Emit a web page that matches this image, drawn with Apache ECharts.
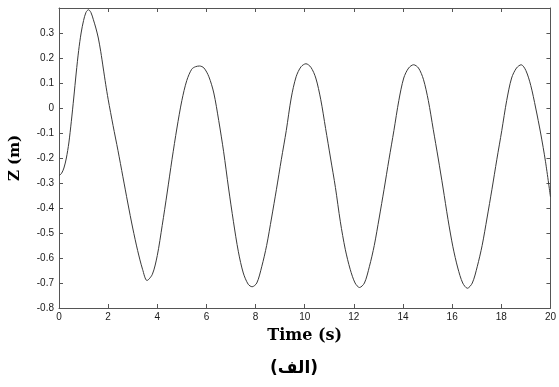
<!DOCTYPE html>
<html>
<head>
<meta charset="utf-8">
<script src="https://cdn.jsdelivr.net/npm/echarts@6/dist/echarts.min.js"></script>
<style>
  html, body { margin: 0; padding: 0; background: #fff; }
  #chart { width: 559px; height: 387px; }
</style>
</head>
<body>
<div id="chart"></div>
<script>
// time (s) and heave Z (m)
const timeS = [
  0, 0.1, 0.2, 0.3, 0.4, 0.5, 0.6, 0.7, 0.8, 0.9, 1.0, 1.1, 1.2, 1.3, 1.4, 1.5, 1.6, 1.7, 1.8, 1.9,
  2.0, 2.2, 2.4, 2.6, 2.8, 3.0, 3.2, 3.4, 3.58,
  3.8, 4.0, 4.2, 4.4, 4.6, 4.8, 5.0, 5.2, 5.4, 5.55, 5.72, 5.9, 6.1, 6.3, 6.5, 6.7, 6.9, 7.1, 7.3, 7.5, 7.7, 7.86,
  8.05, 8.25, 8.45, 8.65, 8.85, 9.05, 9.25, 9.45, 9.65, 9.85, 10.05, 10.25, 10.45, 10.65, 10.85, 11.05, 11.25, 11.45, 11.65, 11.85, 12.05, 12.23,
  12.43, 12.63, 12.83, 13.03, 13.23, 13.43, 13.63, 13.83, 14.03, 14.23, 14.43, 14.63, 14.83, 15.03, 15.23, 15.43, 15.63, 15.83, 16.03, 16.23, 16.43, 16.62,
  16.82, 17.02, 17.22, 17.42, 17.62, 17.82, 18.02, 18.22, 18.42, 18.62, 18.81, 19.0, 19.2, 19.4, 19.6, 19.8, 20.0
];
const zM = [
  -0.27, -0.262, -0.24, -0.2, -0.14, -0.055, 0.04, 0.14, 0.23, 0.3, 0.35, 0.383, 0.393, 0.382, 0.353, 0.32, 0.28, 0.225, 0.16, 0.095,
  0.035, -0.07, -0.17, -0.275, -0.38, -0.48, -0.57, -0.645, -0.69,
  -0.665, -0.59, -0.47, -0.34, -0.205, -0.08, 0.03, 0.11, 0.155, 0.165, 0.168, 0.16, 0.125, 0.06, -0.05, -0.175, -0.32, -0.455, -0.575, -0.66, -0.705, -0.715,
  -0.7, -0.635, -0.55, -0.44, -0.325, -0.205, -0.09, 0.04, 0.125, 0.165, 0.177, 0.163, 0.12, 0.035, -0.082, -0.2, -0.318, -0.455, -0.565, -0.645, -0.7, -0.718,
  -0.7, -0.635, -0.55, -0.44, -0.325, -0.205, -0.09, 0.03, 0.12, 0.16, 0.173, 0.16, 0.115, 0.03, -0.085, -0.2, -0.32, -0.445, -0.555, -0.64, -0.7, -0.721,
  -0.7, -0.635, -0.55, -0.44, -0.325, -0.205, -0.09, 0.03, 0.12, 0.16, 0.173, 0.15, 0.09, 0.0, -0.1, -0.215, -0.355
];
const xTicks = [0, 20, 2];
const yTicks = [-0.8, 0.4, 0.1];
const xName = "Time (s)";
const yName = "Z (m)";
const caption = "(الف)";

const chart = echarts.init(document.getElementById("chart"), null, { renderer: "canvas" });

const frameColor = "#555";
const labelStyle = { color: "#1a1a1a", fontSize: 10, fontFamily: "Liberation Sans, Arial, sans-serif" };
const nameStyle = { color: "#000", fontSize: 16, fontWeight: "bold", fontFamily: "DejaVu Serif, serif" };

const fmt = (v) => String(Math.round(v * 10) / 10);

chart.setOption({
  animation: false,
  backgroundColor: "#fff",
  grid: { left: 57, right: 7, top: 8, bottom: 79 },
  xAxis: [
    {
      type: "value",
      min: xTicks[0],
      max: xTicks[1],
      interval: xTicks[2],
      name: xName,
      nameLocation: "middle",
      nameGap: 20,
      nameTextStyle: nameStyle,
      axisLine: { onZero: false, lineStyle: { color: frameColor, width: 1 } },
      axisTick: { inside: true, length: 4, lineStyle: { color: frameColor } },
      axisLabel: { ...labelStyle, margin: 4, formatter: fmt },
      splitLine: { show: false },
    },
    {
      type: "value",
      position: "top",
      min: xTicks[0],
      max: xTicks[1],
      interval: xTicks[2],
      axisLine: { onZero: false, lineStyle: { color: frameColor, width: 1 } },
      axisTick: { inside: true, length: 4, lineStyle: { color: frameColor } },
      axisLabel: { show: false },
      splitLine: { show: false },
    },
  ],
  yAxis: [
    {
      type: "value",
      min: yTicks[0],
      max: yTicks[1],
      interval: yTicks[2],
      name: yName,
      nameLocation: "middle",
      nameGap: 36,
      nameTextStyle: { ...nameStyle, fontSize: 15 },
      axisLine: { show: true, onZero: false, lineStyle: { color: frameColor, width: 1 } },
      axisTick: { show: true, inside: true, length: 4, lineStyle: { color: frameColor } },
      axisLabel: { ...labelStyle, margin: 5, showMaxLabel: false, formatter: fmt },
      splitLine: { show: false },
    },
    {
      type: "value",
      position: "right",
      min: yTicks[0],
      max: yTicks[1],
      interval: yTicks[2],
      axisLine: { show: true, onZero: false, lineStyle: { color: frameColor, width: 1 } },
      axisTick: { show: true, inside: true, length: 4, lineStyle: { color: frameColor } },
      axisLabel: { show: false },
      splitLine: { show: false },
    },
  ],
  graphic: [
    {
      type: "text",
      x: 294,
      y: 369,
      style: {
        text: caption,
        fill: "#000",
        font: "bold 17px 'DejaVu Sans', sans-serif",
        textAlign: "center",
        textVerticalAlign: "middle",
      },
    },
  ],
  series: [
    {
      type: "line",
      data: timeS.map((t, i) => [t, zM[i]]),
      showSymbol: false,
      smooth: 0.3,
      lineStyle: { color: "#3a3a3a", width: 1 },
    },
  ],
});
</script>
</body>
</html>
